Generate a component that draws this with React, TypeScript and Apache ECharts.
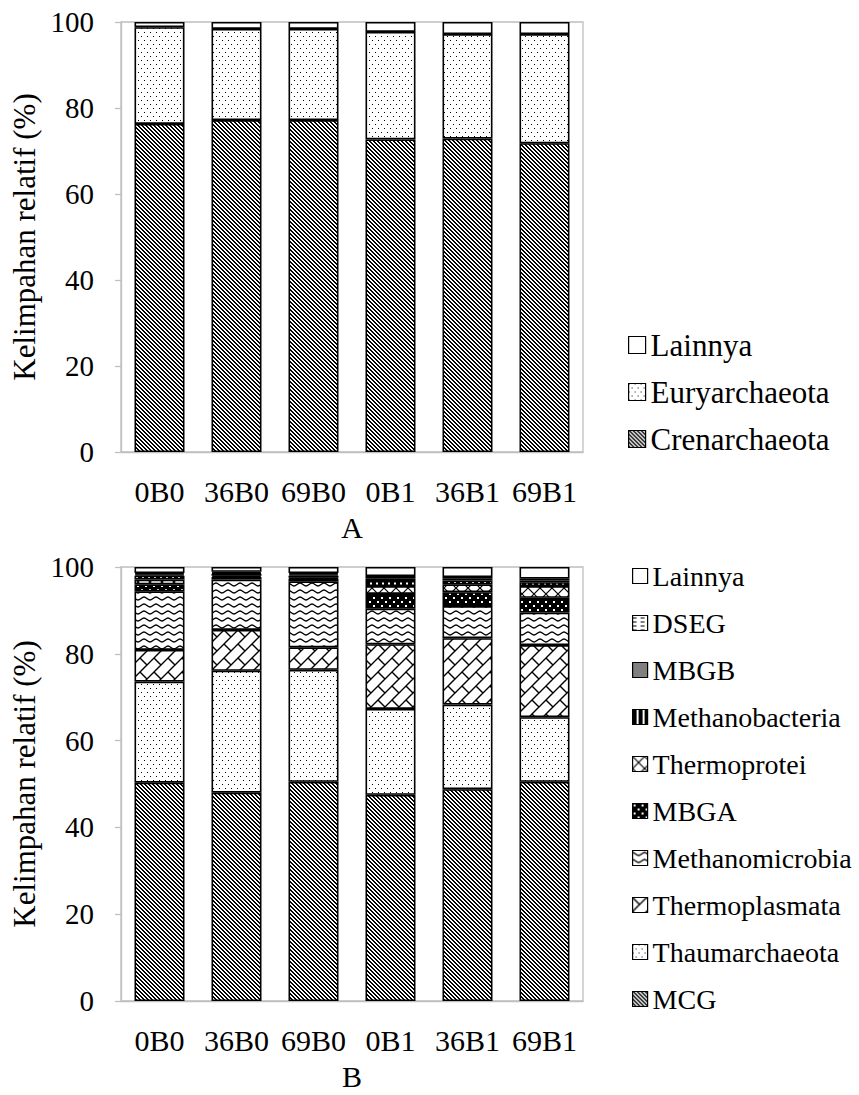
import React, { useEffect, useRef } from 'react';
import * as echarts from 'echarts';

// Sample groups on the x axis (shared by both panels)
const categories = ['0B0', '36B0', '69B0', '0B1', '36B1', '69B1'];

// Panel A – relative abundance per phylum (%)
const crenarchaeota = [76.3, 77.2, 77.2, 72.7, 72.9, 71.8];
const euryarchaeota = [22.5, 21.2, 21.2, 25.0, 24.3, 25.4];
const lainnyaA = [1.2, 1.6, 1.6, 2.3, 2.8, 2.8];

// Panel B – relative abundance per class / lineage (%)
const mcg = [50.3, 48.0, 50.5, 47.5, 48.8, 50.5];
const thaumarchaeota = [23.3, 28.1, 25.8, 19.8, 19.5, 14.9];
const thermoplasmata = [7.3, 9.4, 5.2, 14.9, 15.3, 16.6];
const methanomicrobia = [13.5, 11.6, 15.2, 8.2, 7.4, 7.5];
const mbga = [1.6, 0.6, 0.6, 3.4, 3.2, 3.4];
const thermoprotei = [1.1, 0.3, 0.2, 1.8, 1.8, 2.7];
const methanobacteria = [0.9, 0.4, 0.5, 1.2, 0.9, 0.9];
const mbgb = [0.3, 0.2, 0.3, 0.6, 0.4, 0.4];
const dseg = [0.3, 0.3, 0.3, 0.5, 0.4, 0.4];
const lainnyaB = [1.4, 1.1, 1.4, 2.1, 2.3, 2.7];

const FONT = "'Liberation Serif', 'Times New Roman', Times, serif";
const AXIS_GRAY = '#bfbfbf';

// ---- monochrome fill patterns (tiles as inline SVG images) ----
function tile(w: number, h: number, body: string, bg = '#fff', crisp = true) {
  const svg =
    `<svg xmlns="http://www.w3.org/2000/svg" width="${w}" height="${h}" ` +
    `shape-rendering="${crisp ? 'crispEdges' : 'geometricPrecision'}">` +
    `<rect width="${w}" height="${h}" fill="${bg}"/>${body}</svg>`;
  return {
    image: 'data:image/svg+xml;charset=utf-8,' + encodeURIComponent(svg),
    repeat: 'repeat',
    imageWidth: w,
    imageHeight: h,
  };
}

function bitmap(rows: string[], ink = '#000', bg = '#fff') {
  const h = rows.length;
  const w = rows[0].length;
  let body = '';
  rows.forEach((r, y) => {
    for (let x = 0; x < w; x++) {
      if (r[x] === '#') body += `<rect x="${x}" y="${y}" width="1" height="1" fill="${ink}"/>`;
    }
  });
  return tile(w, h, body, bg, true);
}

const stripes = bitmap(['##..', '.##.', '..##', '#..#']);
const dots = bitmap([
  '#.....',
  '......',
  '......',
  '......',
  '...#..',
  '......',
  '......',
  '......',
]);
const brick = tile(
  14,
  14,
  '<path d="M-2 16 L16 -2 M-2 2 L2 -2 M12 16 L16 12 M0 0 L7 7" stroke="#000" stroke-width="1.4" fill="none"/>',
  '#fff',
  false
);
const wavy = tile(
  12,
  7,
  '<path d="M0 2 C2 2 4 5 6 5 S10 2 12 2" stroke="#000" stroke-width="1.4" fill="none"/>',
  '#fff',
  false
);
const darkDots = bitmap(
  ['........', '.##.....', '.##.....', '........', '........', '.....##.', '.....##.', '........'],
  '#fff',
  '#000'
);
const cross = tile(
  12,
  12,
  '<path d="M0 0 L12 12 M12 0 L0 12" stroke="#000" stroke-width="1.2" fill="none"/>',
  '#fff',
  false
);
const vbars = bitmap(['####..']);
const checker = bitmap(['#.', '.#']);
const hdash = bitmap(['........', '........', '####....', '........']);

function bar(name: string, data: number[], fill: any, idx: number, stack: string) {
  return {
    type: 'bar',
    name,
    data,
    stack,
    xAxisIndex: idx,
    yAxisIndex: idx,
    barWidth: 50,
    itemStyle: { color: fill, borderColor: '#000', borderWidth: 1.6 },
    emphasis: { disabled: true },
  };
}

function xAxis(idx: number, name: string) {
  return {
    type: 'category',
    gridIndex: idx,
    data: categories,
    axisLine: { lineStyle: { color: AXIS_GRAY, width: 1.3 } },
    axisTick: { show: false },
    axisLabel: { color: '#000', fontSize: 30, fontFamily: FONT, margin: 24, interval: 0, hideOverlap: false },
    name,
    nameLocation: 'middle',
    nameGap: 60,
    nameTextStyle: { color: '#000', fontSize: 30, fontFamily: FONT },
  };
}

function yAxis(idx: number) {
  return {
    type: 'value',
    gridIndex: idx,
    min: 0,
    max: 100,
    interval: 20,
    axisLine: { show: true, lineStyle: { color: AXIS_GRAY, width: 1.3 } },
    axisTick: { show: true, inside: false, length: 6, lineStyle: { color: AXIS_GRAY, width: 1.3 } },
    splitLine: { show: false },
    axisLabel: { color: '#000', fontSize: 29, fontFamily: FONT, margin: 27 },
    name: 'Kelimpahan relatif (%)',
    nameLocation: 'middle',
    nameRotate: 90,
    nameGap: 80,
    nameTextStyle: { color: '#000', fontSize: 31, fontFamily: FONT },
  };
}

export default function App() {
  const ref = useRef<HTMLDivElement>(null);

  useEffect(() => {
    if (!ref.current) return;
    const chart = echarts.init(ref.current, undefined, { renderer: 'svg' });
    chart.setOption({
      animation: false,
      backgroundColor: '#fff',
      grid: [
        { left: 121, top: 22, width: 462, height: 430, show: true, borderColor: AXIS_GRAY, borderWidth: 1.3 },
        { left: 121, top: 567, width: 462, height: 434, show: true, borderColor: AXIS_GRAY, borderWidth: 1.3 },
      ],
      xAxis: [xAxis(0, 'A'), xAxis(1, 'B')],
      yAxis: [yAxis(0), yAxis(1)],
      legend: [
        {
          data: ['Lainnya', 'Euryarchaeota', 'Crenarchaeota'],
          orient: 'vertical',
          left: 623,
          top: 324,
          icon: 'rect',
          itemWidth: 17,
          itemHeight: 17,
          itemGap: 15,
          selectedMode: false,
          itemStyle: { borderColor: '#000', borderWidth: 1.2 },
          textStyle: { color: '#000', fontSize: 31, lineHeight: 32, fontFamily: FONT },
        },
        {
          data: [
            'Lainnya',
            'DSEG',
            'MBGB',
            'Methanobacteria',
            'Thermoprotei',
            'MBGA',
            'Methanomicrobia',
            'Thermoplasmata',
            'Thaumarchaeota',
            'MCG',
          ],
          orient: 'vertical',
          left: 627,
          top: 556,
          icon: 'rect',
          itemWidth: 15,
          itemHeight: 15,
          itemGap: 17,
          selectedMode: false,
          itemStyle: { borderColor: '#000', borderWidth: 1.2 },
          textStyle: { color: '#000', fontSize: 28, lineHeight: 30, fontFamily: FONT },
        },
      ],
      series: [
        bar('Crenarchaeota', crenarchaeota, stripes, 0, 'A'),
        bar('Euryarchaeota', euryarchaeota, dots, 0, 'A'),
        bar('Lainnya', lainnyaA, '#fff', 0, 'A'),
        bar('MCG', mcg, stripes, 1, 'B'),
        bar('Thaumarchaeota', thaumarchaeota, dots, 1, 'B'),
        bar('Thermoplasmata', thermoplasmata, brick, 1, 'B'),
        bar('Methanomicrobia', methanomicrobia, wavy, 1, 'B'),
        bar('MBGA', mbga, darkDots, 1, 'B'),
        bar('Thermoprotei', thermoprotei, cross, 1, 'B'),
        bar('Methanobacteria', methanobacteria, vbars, 1, 'B'),
        bar('MBGB', mbgb, checker, 1, 'B'),
        bar('DSEG', dseg, hdash, 1, 'B'),
        bar('Lainnya', lainnyaB, '#fff', 1, 'B'),
      ],
    });
    return () => chart.dispose();
  }, []);

  return (
    <div
      ref={ref}
      style={{ position: 'absolute', left: 0, top: 0, width: 859, height: 1095, background: '#fff' }}
    />
  );
}
